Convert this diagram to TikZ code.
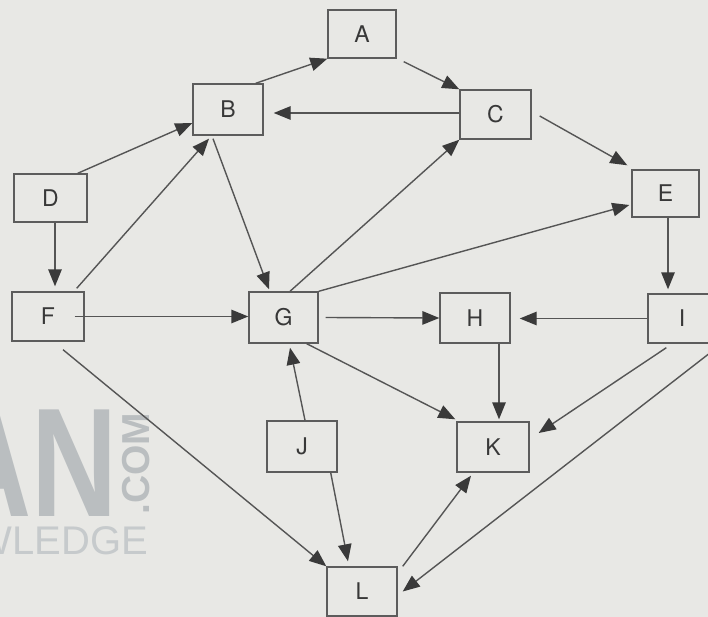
\documentclass[tikz,border=0pt]{standalone}
\usepackage{fontspec}
\setmainfont{TeX Gyre Heros}
\newfontfamily\wmfont{Liberation Sans}
\usetikzlibrary{arrows.meta}
\definecolor{paper}{HTML}{E8E8E5}
\definecolor{edgec}{HTML}{555555}
\definecolor{tipc}{HTML}{3A3A3A}
\definecolor{framec}{HTML}{5C5C5C}
\definecolor{ink}{HTML}{383838}
\definecolor{markc}{HTML}{BABEC0}
\definecolor{markthin}{HTML}{C6CACC}
\begin{document}
\begin{tikzpicture}[x=1pt,y=-1pt,
  box/.style={draw=framec, line width=1.4pt, inner sep=0pt, text=ink,
              font=\fontsize{23}{27}\selectfont},
  arr/.style={draw=edgec, line width=1.4pt,
              -{Triangle[length=17pt,width=13.5pt,color=tipc]}}]
\useasboundingbox (0,0) rectangle (708,617);
\fill[paper] (0,0) rectangle (708,617);

% faint logo in the lower left corner
\begin{scope}
  \clip (0,0) rectangle (708,617);
  \node[anchor=base east, inner sep=0pt, text=markc, xscale=0.77, text depth=0pt,
        font=\wmfont\bfseries\fontsize{155}{155}\selectfont] (wmAN) at (118,516) {AN};
  \node[anchor=base west, inner sep=0pt, text=markc, rotate=90, text depth=0pt,
        font=\wmfont\bfseries\fontsize{39}{39}\selectfont] (wmCOM) at (149,515) {.COM};
  \node[anchor=base east, inner sep=0pt, text=markthin, text height=29pt,
        font=\wmfont\fontsize{40}{40}\selectfont] (wmKN) at (148,554) {WLEDGE};
\end{scope}

% boxes
\node[box, minimum width=68pt, minimum height=48pt] (A) at (362,34) {A};
\node[box, minimum width=70pt, minimum height=51pt] (B) at (228,109.5) {B};
\node[box, minimum width=71pt, minimum height=49pt] (C) at (495.5,114.5) {C};
\node[box, minimum width=73pt, minimum height=48pt] (D) at (50.5,198) {D};
\node[box, minimum width=67pt, minimum height=47pt] (E) at (665.5,193.5) {E};
\node[box, minimum width=72pt, minimum height=49pt] (F) at (48,316.5) {F};
\node[box, minimum width=69pt, minimum height=51pt] (G) at (283.5,317.5) {G};
\node[box, minimum width=70pt, minimum height=50pt] (H) at (475,318) {H};
\node[box, minimum width=68pt, minimum height=49pt] (I) at (682,318.5) {I\hspace{18pt}};
\node[box, minimum width=70pt, minimum height=51pt] (J) at (302,446.5) {J};
\node[box, minimum width=72pt, minimum height=50pt] (K) at (493,447) {K};
\node[box, minimum width=70pt, minimum height=49pt] (L) at (362,591.5) {L\hspace{8pt}};

% helper points for the straight vertical and horizontal connectors
\coordinate (dB) at ([xshift=4.5pt]D.south);
\coordinate (fT) at ([yshift=5pt]F.north);
\coordinate (eB) at ([xshift=2.5pt]E.south);
\coordinate (iT) at ([yshift=4pt]I.north);
\coordinate (hB) at ([xshift=24pt]H.south);
\coordinate (kT) at ([yshift=2pt]K.north);
\coordinate (hR) at ([xshift=9pt]H.east);

% connectors
\draw[arr] ([xshift=-8pt]B.north east) -- (A.south west);
\draw[arr] ([xshift=7pt,yshift=-3pt]A.south east) -- (C.north west);
\draw[arr] ([yshift=1.5pt]C.west) -- ([xshift=10pt,yshift=-3.5pt]B.east);
\draw[arr] ([xshift=8pt,yshift=-1.5pt]C.east) -- ([xshift=-4pt,yshift=4pt]E.north west);
\draw[arr] ([xshift=-10pt]D.north east) -- ([yshift=-13.5pt]B.west);
\draw[arr] (dB) -- (dB |- fT);
\draw[arr] ([xshift=-8pt,yshift=3pt]F.north east) -- ([xshift=-19pt,yshift=-3pt]B.south);
\draw[arr] ([xshift=-15pt,yshift=-3pt]B.south) -- ([xshift=-14.5pt,yshift=2pt]G.north);
\draw[arr] ([xshift=6.5pt]G.north) -- (C.south west);
\draw[arr] (G.north east) -- ([xshift=-2pt,yshift=-11.5pt]E.west);
\draw[arr] (eB) -- (eB |- iT);
\draw[arr] ([xshift=-10pt]F.east) -- (G.west |- F.east);
\draw[arr] ([xshift=7pt]G.east) -- (H.west);
\draw[arr] (I.west) -- (hR |- I.west);
\draw[arr] ([xshift=-12pt]G.south east) -- ([xshift=-1pt,yshift=2pt]K.north west);
\draw[arr] (hB) -- (hB |- kT);
\draw[arr] ([xshift=19pt,yshift=-4pt]I.south west) -- ([xshift=9pt,yshift=14pt]K.east);
\draw[arr] ([yshift=-4pt]I.south east) -- ([xshift=5pt]L.east);
\draw[arr] ([xshift=15pt,yshift=-8pt]F.south) -- (L.north west);
\draw[arr] ([xshift=3pt]J.north) -- ([xshift=6.5pt,yshift=-4pt]G.south);
\draw[arr] ([xshift=-7pt]J.south east) -- ([xshift=-14pt,yshift=5pt]L.north);
\draw[arr] ([xshift=5pt]L.north east) -- ([xshift=-22pt,yshift=-3pt]K.south);
\end{tikzpicture}
\end{document}
